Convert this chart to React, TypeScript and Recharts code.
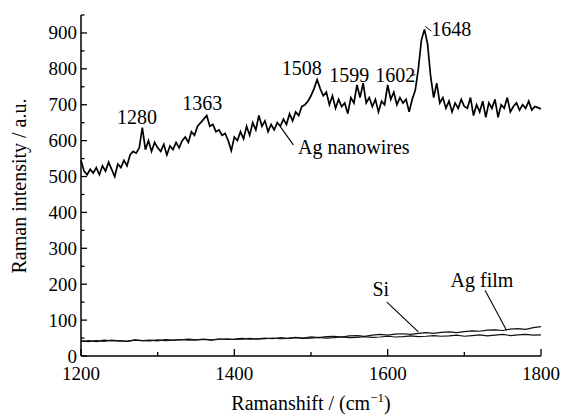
import React from 'react';
import { LineChart, Line, XAxis, YAxis, ReferenceLine, ReferenceDot } from 'recharts';

// Raman spectra
const shiftStart = 1200;
const wireStep = 4;
const flatStep = 10;

const nanowires = [
  545, 515, 505, 520, 510, 525, 505, 530, 515, 540, 520, 500, 535, 525, 545, 530, 560, 570, 565, 580,
  636, 575, 600, 570, 595, 580, 570, 590, 560, 585, 575, 595, 580, 600, 610, 595, 625, 615, 640, 650,
  660, 670, 640, 645, 625, 630, 615, 620, 600, 572, 610, 600, 625, 605, 640, 615, 650, 630, 670, 640,
  655, 625, 645, 630, 650, 640, 660, 645, 675, 655, 680, 670, 695, 700, 710, 725, 745, 770, 745, 725,
  735, 700, 725, 690, 715, 695, 705, 675, 720, 705, 755, 720, 760, 705, 720, 695, 715, 680, 710, 700,
  755, 715, 735, 700, 720, 705, 715, 680, 715, 740, 800, 880, 910, 870, 780, 720, 760, 705, 720, 690,
  710, 680, 705, 690, 715, 695, 690, 720, 670, 700, 680, 710, 665, 705, 690, 715, 665, 700, 690, 720,
  680, 695, 705, 685, 700, 690, 710, 685, 695, 692, 688,
];

const silicon = [
  42, 40, 43, 41, 44, 42, 41, 44, 43, 42, 45, 43, 44, 46, 44, 45, 47, 45, 46, 48,
  46, 47, 49, 47, 48, 50, 48, 49, 51, 49, 50, 52, 50, 51, 53, 51, 52, 54, 52, 53,
  55, 53, 54, 56, 54, 55, 57, 55, 56, 58, 55, 57, 59, 56, 58, 60, 57, 59, 60, 58, 59,
];

const agFilm = [
  41, 43, 40, 44, 42, 43, 41, 45, 43, 44, 42, 46, 44, 45, 47, 45, 46, 44, 48, 46,
  47, 49, 47, 48, 50, 48, 51, 49, 52, 50, 53, 51, 54, 55, 53, 56, 57, 55, 58, 60,
  58, 61, 62, 60, 63, 65, 63, 66, 67, 65, 68, 70, 69, 72, 73, 71, 75, 76, 74, 79, 82,
];

const xTicks = [1200, 1300, 1400, 1500, 1600, 1700, 1800];
const xLabelled = [1200, 1400, 1600, 1800];
const yTicks = [0, 50, 100, 150, 200, 250, 300, 350, 400, 450, 500, 550, 600, 650, 700, 750, 800, 850, 900, 950];

const peakNotes = [
  { text: '1280', x: 1273, y: 667 },
  { text: '1363', x: 1358, y: 705 },
  { text: '1508', x: 1488, y: 803 },
  { text: '1599', x: 1550, y: 784 },
  { text: '1602', x: 1610, y: 784 },
  { text: '1648', x: 1683, y: 910 },
];

const FONT = 'Liberation Serif, Times New Roman, serif';

const toRows = (vals: number[], step: number) => vals.map((v, i) => ({ x: shiftStart + i * step, y: v }));

const XTick = (props: any) => {
  const { x, y, payload } = props;
  const major = xLabelled.includes(payload.value);
  return (
    <g>
      <line x1={x} x2={x} y1={y} y2={y - (major ? 7 : 4)} stroke="#000" strokeWidth={1.3} />
      {major && (
        <text x={x} y={y + 24} textAnchor="middle" style={{ fontFamily: FONT }} fontSize={19} fill="#000">
          {payload.value}
        </text>
      )}
    </g>
  );
};

const YTick = (props: any) => {
  const { x, y, payload } = props;
  const major = payload.value % 100 === 0;
  return (
    <g>
      <line x1={x} x2={x + (major ? 6 : 3.5)} y1={y} y2={y} stroke="#000" strokeWidth={1.3} />
      {major && (
        <text x={x - 4} y={y + 6.5} textAnchor="end" style={{ fontFamily: FONT }} fontSize={19} fill="#000">
          {payload.value}
        </text>
      )}
    </g>
  );
};

const XTitle = (props: any) => {
  const { viewBox } = props;
  return (
    <text x={311} y={viewBox.y + 54} textAnchor="middle" style={{ fontFamily: FONT }} fontSize={20} fill="#000">
      Ramanshift / (cm
      <tspan fontSize={13} dy={-8}>−1</tspan>
      <tspan dy={8}>)</tspan>
    </text>
  );
};

const YTitle = () => (
  <text x={19} y={186} transform="rotate(-90 19 186)" textAnchor="middle" dominantBaseline="central" style={{ fontFamily: FONT }} fontSize={20} fill="#000">
    Raman intensity / a.u.
  </text>
);

const Note = (props: any) => {
  const { viewBox, text, anchor } = props;
  return (
    <text
      x={viewBox.x + viewBox.width / 2}
      y={viewBox.y + viewBox.height / 2}
      textAnchor={anchor || 'middle'}
      dominantBaseline="central"
      style={{ fontFamily: FONT }}
      fontSize={20}
      fill="#000"
    >
      {text}
    </text>
  );
};

export default function App() {
  return (
    <>
      <style>{'body{margin:0;overflow:hidden}'}</style>
      <LineChart width={563} height={417} margin={{ top: 15, right: 22, left: 0, bottom: 0 }}>
        <XAxis
          type="number"
          dataKey="x"
          domain={[1200, 1800]}
          ticks={xTicks}
          interval={0}
          tickSize={0}
          tickMargin={0}
          tick={<XTick />}
          height={61}
          axisLine={{ stroke: '#000', strokeWidth: 1.5 }}
          label={<XTitle />}
        />
        <YAxis
          type="number"
          dataKey="y"
          domain={[0, 950]}
          ticks={yTicks}
          interval={0}
          tickSize={0}
          tickMargin={0}
          tick={<YTick />}
          width={81}
          allowDataOverflow
          axisLine={{ stroke: '#000', strokeWidth: 1.5 }}
          label={<YTitle />}
        />

        <Line data={toRows(agFilm, flatStep)} dataKey="y" stroke="#111" strokeWidth={1.2} dot={false} isAnimationActive={false} />
        <Line data={toRows(silicon, flatStep)} dataKey="y" stroke="#111" strokeWidth={1.2} dot={false} isAnimationActive={false} />
        <Line data={toRows(nanowires, wireStep)} dataKey="y" stroke="#000" strokeWidth={1.7} dot={false} isAnimationActive={false} />

        {/* leader lines */}
        <ReferenceLine segment={[{ x: 1460, y: 639 }, { x: 1477, y: 588 }]} stroke="#000" strokeWidth={1.1} />
        <ReferenceLine segment={[{ x: 1599, y: 150 }, { x: 1640, y: 67 }]} stroke="#000" strokeWidth={1.1} />
        <ReferenceLine segment={[{ x: 1727, y: 183 }, { x: 1755, y: 72 }]} stroke="#000" strokeWidth={1.1} />
        <ReferenceLine segment={[{ x: 1629, y: 780 }, { x: 1636, y: 784 }]} stroke="#000" strokeWidth={1} />
        <ReferenceLine segment={[{ x: 1649, y: 918 }, { x: 1657, y: 905 }]} stroke="#000" strokeWidth={1} />

        {peakNotes.map((n) => (
          <ReferenceDot key={n.text} x={n.x} y={n.y} r={0} fill="none" stroke="none" label={<Note text={n.text} />} />
        ))}
        <ReferenceDot x={1483} y={583} r={0} fill="none" stroke="none" label={<Note text="Ag nanowires" anchor="start" />} />
        <ReferenceDot x={1591} y={186} r={0} fill="none" stroke="none" label={<Note text="Si" />} />
        <ReferenceDot x={1723} y={213} r={0} fill="none" stroke="none" label={<Note text="Ag film" />} />
      </LineChart>
    </>
  );
}
